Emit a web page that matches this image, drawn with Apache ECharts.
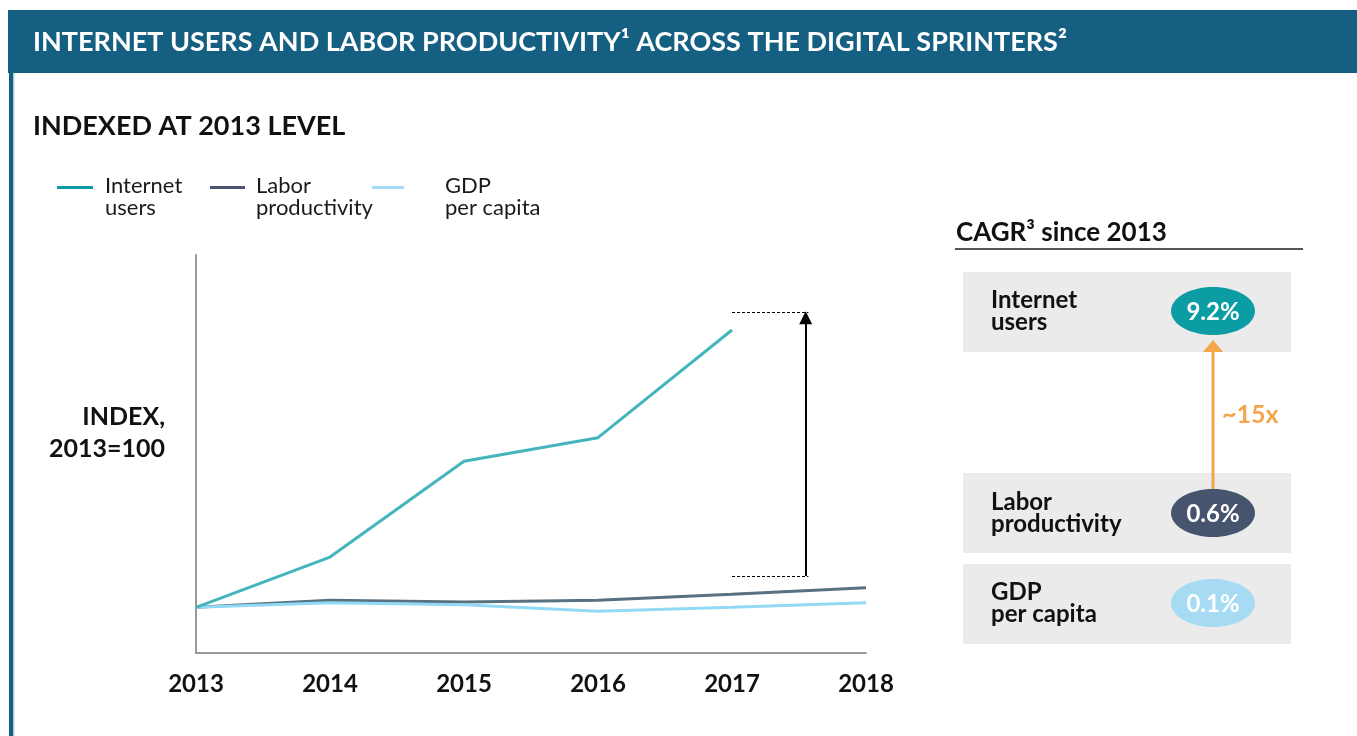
<!DOCTYPE html>
<html>
<head>
<meta charset="utf-8">
<script src="https://cdn.jsdelivr.net/npm/echarts@6/dist/echarts.min.js"></script>
<style>
html,body{margin:0;padding:0;background:#fff;}
#chart{width:1357px;height:736px;}
</style>
</head>
<body>
<div id="chart"></div>
<script>
// ---- data ----
const years = [2013, 2014, 2015, 2016, 2017, 2018];
const xTickLabels = ['2013', '2014', '2015', '2016', '2017', '2018'];
const seriesNames = ['Internet users', 'Labor productivity', 'GDP per capita'];
const legendLabels = ['Internet\nusers', 'Labor\nproductivity', 'GDP\nper capita'];
const internetUsers = [100, 107.7, 122.4, 126.0, 142.5, null];
const laborProductivity = [100, 101.1, 100.8, 101.1, 102.0, 103.0];
const gdpPerCapita = [100, 100.7, 100.4, 99.4, 100.0, 100.7];
// gap annotation: [start year of dashed guides, end year of guides, arrow year]
const gapYears = [2017, 2017.57, 2017.55];
// gap annotation: [lower level, upper level, arrow tip level]
const gapLevels = [104.8, 145.3, 144.4];
const cagrLabels = ['Internet\nusers', 'Labor\nproductivity', 'GDP\nper capita'];
const cagrValues = ['9.2%', '0.6%', '0.1%'];
const cagrRatio = '~15x';

// ---- styles ----
const FONT = 'Lato, "Open Sans", sans-serif';
const lineColors = ['#45b5bd', '#587080', '#92d9f5'];
const legendColors = ['#0e9ca4', '#4a5570', '#a6dcf3'];
const pillColors = ['#0c9ca4', '#46546e', '#a6dbf3'];
const HEADER = '#156082';
const ORANGE = '#f5a54a';

const pairs = (vals) => years.map((y, i) => [y, vals[i]]);

const chart = echarts.init(document.getElementById('chart'), null, {renderer: 'canvas'});

function legendFor(i, left, itemWidth, barWidth) {
  const icon = 'path://M0,0H' + barWidth + 'V3H0Z M' + (itemWidth - 0.1) + ',21.9H' + itemWidth + 'V22H' + (itemWidth - 0.1) + 'Z';
  return {
    left: left, top: 175, padding: 0, orient: 'horizontal',
    selectedMode: false,
    itemWidth: itemWidth, itemHeight: 22,
    data: [{name: seriesNames[i], icon: icon,
            itemStyle: {color: legendColors[i], borderWidth: 0}}],
    formatter: () => legendLabels[i],
    textStyle: {fontFamily: FONT, fontSize: 22, lineHeight: 22, color: '#1a1a1a'}
  };
}

const rowCenters = [311, 513, 603];
const boxTops = [272, 473, 564];

const graphics = [
  {type: 'rect', shape: {x: 8, y: 10, width: 1349, height: 63}, style: {fill: HEADER}, silent: true},
  {type: 'rect', shape: {x: 9, y: 73, width: 4, height: 663}, style: {fill: HEADER}, silent: true},
  {type: 'rect', shape: {x: 13, y: 73, width: 1.5, height: 663}, style: {fill: '#a9d2e3'}, silent: true},
  {type: 'text', x: 33, y: 42, style: {
    text: 'INTERNET USERS AND LABOR PRODUCTIVITY¹ ACROSS THE DIGITAL SPRINTERS²',
    fill: '#ffffff', font: 'bold 27px ' + FONT, verticalAlign: 'middle', textAlign: 'left'}},
  {type: 'text', x: 33, y: 126, style: {
    text: 'INDEXED AT 2013 LEVEL', fill: '#111', font: 'bold 27px ' + FONT, verticalAlign: 'middle'}},
  {type: 'text', x: 165, y: 433, style: {
    text: 'INDEX,\n2013=100', fill: '#111', font: 'bold 25px ' + FONT, lineHeight: 32,
    textAlign: 'right', verticalAlign: 'middle'}},
  // CAGR panel
  {type: 'text', x: 956, y: 233, style: {
    text: 'CAGR³ since 2013', fill: '#111', font: 'bold 26px ' + FONT, verticalAlign: 'middle'}},
  {type: 'rect', shape: {x: 955, y: 248, width: 348, height: 2}, style: {fill: '#555'}, silent: true}
];
cagrLabels.forEach((lab, i) => {
  graphics.push({type: 'rect', shape: {x: 963, y: boxTops[i], width: 328, height: 80}, style: {fill: '#ebebeb'}, silent: true});
  graphics.push({type: 'text', x: 991, y: rowCenters[i], style: {
    text: lab, fill: '#111', font: 'bold 24px ' + FONT, lineHeight: 22, verticalAlign: 'middle'}});
  graphics.push({type: 'ellipse', shape: {cx: 1213, cy: rowCenters[i], rx: 42, ry: 24}, style: {fill: pillColors[i]}, silent: true});
  graphics.push({type: 'text', x: 1213, y: rowCenters[i] + 1, style: {
    text: cagrValues[i], fill: '#fff', font: 'bold 24px ' + FONT, textAlign: 'center', verticalAlign: 'middle'}});
});
graphics.push({type: 'line', shape: {x1: 1213, y1: rowCenters[1] - 24, x2: 1213, y2: 349}, style: {stroke: ORANGE, lineWidth: 3}, silent: true});
graphics.push({type: 'polygon', shape: {points: [[1213, 340], [1203, 352], [1223, 352]]}, style: {fill: ORANGE}, silent: true});
graphics.push({type: 'text', x: 1222, y: 415, style: {
  text: cagrRatio, fill: ORANGE, font: 'bold 25px ' + FONT, verticalAlign: 'middle'}});

const lineSeries = (i, vals, extra) => Object.assign({
  name: seriesNames[i], type: 'line', data: pairs(vals), symbol: 'none',
  showSymbol: false, connectNulls: false,
  lineStyle: {color: lineColors[i], width: 3},
  itemStyle: {color: lineColors[i]},
  emphasis: {disabled: true}, silent: true
}, extra || {});

const option = {
  animation: false,
  backgroundColor: '#fff',
  textStyle: {fontFamily: FONT},
  grid: {left: 196, right: 491, top: 255, bottom: 83, containLabel: false},
  legend: [legendFor(0, 57, 43, 36), legendFor(1, 210, 41, 35), legendFor(2, 372, 68, 32)],
  xAxis: {
    type: 'value', min: years[0], max: years[years.length - 1], interval: 1,
    axisLine: {show: true, onZero: false, lineStyle: {color: '#9a9a9a', width: 2}},
    axisTick: {show: false}, splitLine: {show: false},
    axisLabel: {
      margin: 19, color: '#111', fontFamily: FONT, fontWeight: 'bold', fontSize: 24,
      showMinLabel: true, showMaxLabel: true,
      formatter: (v) => { const k = years.indexOf(Math.round(v)); return k >= 0 ? xTickLabels[k] : ''; }
    }
  },
  yAxis: {
    type: 'value', min: 93, max: 154,
    axisLine: {show: true, lineStyle: {color: '#9a9a9a', width: 2}},
    axisTick: {show: false}, splitLine: {show: false}, axisLabel: {show: false}
  },
  series: [
    lineSeries(1, laborProductivity),
    lineSeries(2, gdpPerCapita),
    lineSeries(0, internetUsers, {
      markLine: {
        silent: true, animation: false,
        label: {show: false}, emphasis: {disabled: true},
        data: [
          [{coord: [gapYears[0], gapLevels[1]], symbol: 'none', lineStyle: {type: [3, 2], color: '#000', width: 1}},
           {coord: [gapYears[1], gapLevels[1]], symbol: 'none'}],
          [{coord: [gapYears[0], gapLevels[0]], symbol: 'none', lineStyle: {type: [3, 2], color: '#000', width: 1}},
           {coord: [gapYears[1], gapLevels[0]], symbol: 'none'}],
          [{coord: [gapYears[2], gapLevels[0]], symbol: 'none', lineStyle: {type: 'solid', color: '#000', width: 2}},
           {coord: [gapYears[2], gapLevels[2]], symbol: 'triangle', symbolSize: 13}]
        ]
      }
    })
  ],
  graphic: graphics
};
chart.setOption(option);
</script>
</body>
</html>
